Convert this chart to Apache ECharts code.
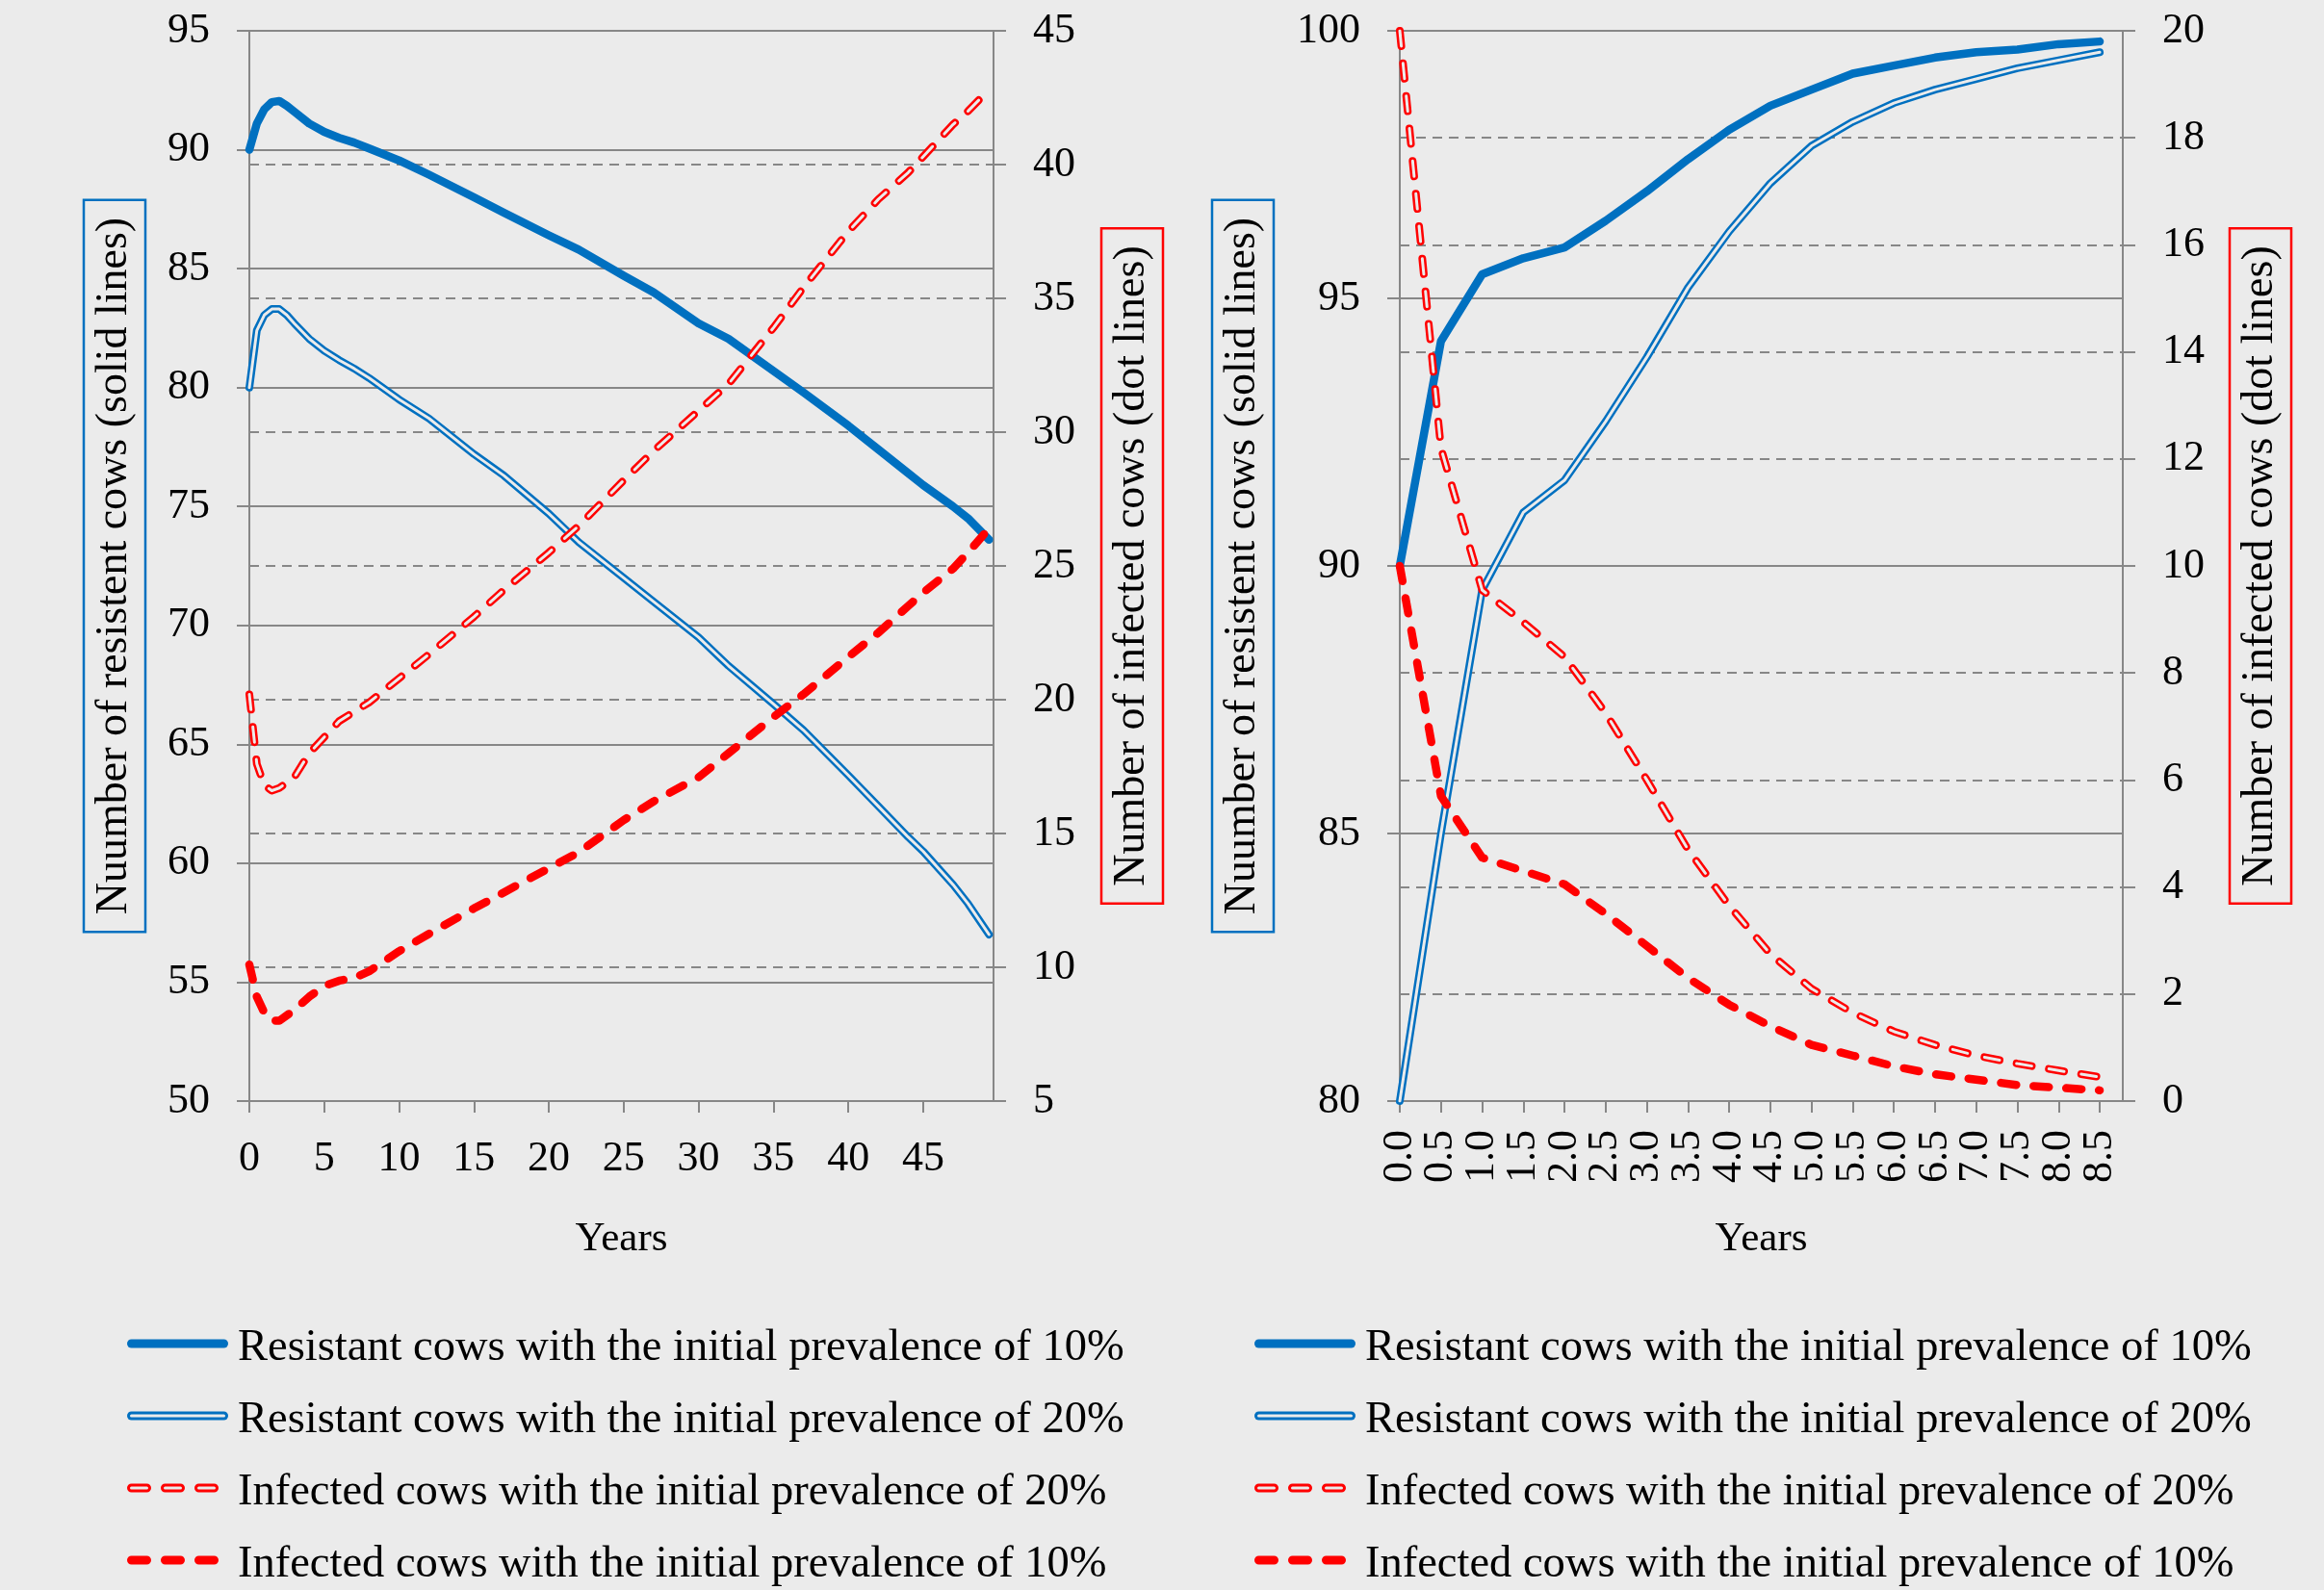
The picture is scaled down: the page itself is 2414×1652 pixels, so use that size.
<!DOCTYPE html>
<html><head><meta charset="utf-8">
<script src="https://cdn.jsdelivr.net/npm/echarts@6/dist/echarts.min.js"></script>
<style>html,body{margin:0;padding:0;background:#ebebeb}#c{width:2414px;height:1652px}</style>
</head><body><div id="c"></div><script>
// ---- data ----
const leftYears = [0, 0.5, 1, 1.5, 2, 2.5, 3, 4, 5, 6, 7, 8, 10, 12, 15, 17, 20, 22, 25, 27, 30, 32, 35, 37, 40, 42, 44, 45, 47, 48, 49.4];
const leftRes10 = [90.0, 91.1, 91.7, 92.0, 92.05, 91.85, 91.6, 91.1, 90.75, 90.5, 90.3, 90.05, 89.55, 88.95, 88.0, 87.35, 86.4, 85.8, 84.7, 84.0, 82.7, 82.05, 80.7, 79.8, 78.4, 77.4, 76.4, 75.9, 75.0, 74.5, 73.6];
const leftRes20 = [80.0, 82.4, 83.05, 83.3, 83.3, 83.05, 82.7, 82.05, 81.55, 81.15, 80.8, 80.4, 79.5, 78.7, 77.2, 76.3, 74.7, 73.5, 72.0, 71.0, 69.5, 68.3, 66.7, 65.6, 63.7, 62.4, 61.1, 60.5, 59.1, 58.3, 57.0];
const leftInf20 = [20.2, 17.6, 16.8, 16.6, 16.7, 16.9, 17.1, 18.0, 18.6, 19.2, 19.55, 19.9, 20.8, 21.7, 23.1, 24.1, 25.5, 26.5, 28.2, 29.3, 30.8, 31.8, 33.9, 35.4, 37.5, 38.7, 39.7, 40.3, 41.5, 42.0, 42.8];
const leftInf10 = [10.1, 8.9, 8.3, 8.0, 8.0, 8.2, 8.4, 8.9, 9.3, 9.5, 9.6, 9.85, 10.6, 11.25, 12.2, 12.8, 13.7, 14.3, 15.5, 16.2, 17.1, 18.0, 19.35, 20.2, 21.6, 22.5, 23.5, 24.0, 24.9, 25.5, 26.4];

const rightYears = [0, 0.5, 1, 1.5, 2, 2.5, 3, 3.5, 4, 4.5, 5, 5.5, 6, 6.5, 7, 7.5, 8, 8.5];
const rightYearLabels = ['0.0', '0.5', '1.0', '1.5', '2.0', '2.5', '3.0', '3.5', '4.0', '4.5', '5.0', '5.5', '6.0', '6.5', '7.0', '7.5', '8.0', '8.5'];
const rightRes10 = [90.0, 94.2, 95.45, 95.75, 95.95, 96.45, 97.0, 97.6, 98.15, 98.6, 98.9, 99.2, 99.35, 99.5, 99.6, 99.65, 99.75, 99.8];
const rightRes20 = [80.0, 85.0, 89.55, 91.0, 91.6, 92.7, 93.9, 95.2, 96.25, 97.15, 97.85, 98.3, 98.65, 98.9, 99.1, 99.3, 99.45, 99.6];
const rightInf20 = [20.0, 12.2, 9.55, 8.95, 8.3, 7.25, 6.0, 4.7, 3.65, 2.75, 2.1, 1.65, 1.3, 1.05, 0.85, 0.7, 0.57, 0.45];
const rightInf10 = [10.0, 5.7, 4.55, 4.3, 4.05, 3.5, 2.9, 2.3, 1.8, 1.4, 1.05, 0.85, 0.65, 0.5, 0.4, 0.3, 0.25, 0.2];

const seriesNames = [
  'Resistant cows with the initial prevalence of 10%',
  'Resistant cows with the initial prevalence of 20%',
  'Infected cows with the initial prevalence of 20%',
  'Infected cows with the initial prevalence of 10%'
];
const resistantAxisName = 'Nuumber of resistent cows (solid lines)';
const infectedAxisName = 'Number of infected cows (dot lines)';
const xAxisName = 'Years';

// ---- styling ----
const BLUE = '#0070C0', RED = '#FF0000', BG = '#EBEBEB', GRAY = '#878787';
const FONT = '"Liberation Serif", "Times New Roman", serif';
const DASH = [16, 18];
const RIGHT_X_MAX = 8.78;
const RIGHT_GRID = { left: 1454, top: 32, width: 751, height: 1112 };

function pairs(xs, ys) { return xs.map((x, i) => [x, ys[i]]); }

function seriesSet(gi, xs, r10, r20, i20, i10) {
  const base = { type: 'line', xAxisIndex: gi, showSymbol: false, symbol: 'none', animation: false, silent: true, smooth: false };
  const y0 = gi * 2, y1 = gi * 2 + 1;
  return [
    Object.assign({}, base, { name: seriesNames[0], yAxisIndex: y0, data: pairs(xs, r10), z: 2,
      lineStyle: { color: BLUE, width: 8.5, cap: 'round', join: 'round' } }),
    Object.assign({}, base, { name: seriesNames[1], yAxisIndex: y0, data: pairs(xs, r20), z: 3,
      lineStyle: { color: BLUE, width: 8, cap: 'round', join: 'round' } }),
    Object.assign({}, base, { name: seriesNames[1] + ' (inner)', yAxisIndex: y0, data: pairs(xs, r20), z: 4,
      lineStyle: { color: BG, width: 3, cap: 'round', join: 'round' } }),
    Object.assign({}, base, { name: seriesNames[2], yAxisIndex: y1, data: pairs(xs, i20), z: 5,
      lineStyle: { color: RED, width: 8, type: DASH, cap: 'round', join: 'round' } }),
    Object.assign({}, base, { name: seriesNames[2] + ' (inner)', yAxisIndex: y1, data: pairs(xs, i20), z: 6,
      lineStyle: { color: BG, width: 3, type: DASH, cap: 'round', join: 'round' } }),
    Object.assign({}, base, { name: seriesNames[3], yAxisIndex: y1, data: pairs(xs, i10), z: 7,
      lineStyle: { color: RED, width: 8.5, type: DASH, cap: 'round', join: 'round' } })
  ];
}

function yAxis(gi, pos, min, max, interval, lineType, name, boxColor, gap) {
  return {
    type: 'value', gridIndex: gi, position: pos, min: min, max: max, interval: interval,
    axisLine: { show: true, onZero: false, lineStyle: { color: GRAY, width: 2 } },
    axisTick: { show: true, inside: false, length: 13, lineStyle: { color: GRAY, width: 2 } },
    axisLabel: { margin: 41, color: '#000', fontSize: 44, fontFamily: FONT, showMinLabel: true, showMaxLabel: true },
    splitLine: { show: true, lineStyle: { color: GRAY, width: 2, type: lineType } },
    name: name, nameLocation: 'middle', nameRotate: 90, nameGap: gap, nameMoveOverlap: false,
    nameTextStyle: { color: '#000', fontSize: 46, fontFamily: FONT, borderColor: boxColor, borderWidth: 2.5, padding: [9, 18] }
  };
}

function xAxis(gi, max, interval, showLabels) {
  return {
    type: 'value', gridIndex: gi, min: 0, max: max, interval: interval,
    axisLine: { show: true, onZero: false, lineStyle: { color: GRAY, width: 2 } },
    axisTick: { show: showLabels, inside: false, length: 12, lineStyle: { color: GRAY, width: 2 } },
    axisLabel: { show: showLabels, margin: 38, color: '#000', fontSize: 44, fontFamily: FONT, showMinLabel: true, showMaxLabel: false },
    splitLine: { show: false },
    name: xAxisName, nameLocation: 'middle', nameGap: 122, nameMoveOverlap: false,
    nameTextStyle: { color: '#000', fontSize: 43, fontFamily: FONT }
  };
}

// ---- legends drawn as graphics (double & hollow line styles) ----
const legendRows = [1396, 1471, 1546, 1621];
function legendGraphic(x1, x2, tx) {
  const els = [];
  const a = x1 + 4.5, b = x2 - 4.5;
  legendRows.forEach((y, i) => {
    if (i === 0) {
      els.push({ type: 'line', shape: { x1: a, y1: y, x2: b, y2: y }, style: { stroke: BLUE, lineWidth: 9, lineCap: 'round' } });
    } else if (i === 1) {
      els.push({ type: 'line', shape: { x1: a, y1: y, x2: b, y2: y }, style: { stroke: BLUE, lineWidth: 9, lineCap: 'round' } });
      els.push({ type: 'line', shape: { x1: a, y1: y, x2: b, y2: y }, style: { stroke: BG, lineWidth: 3, lineCap: 'round' } });
    } else if (i === 2) {
      els.push({ type: 'line', shape: { x1: a, y1: y, x2: b, y2: y }, style: { stroke: RED, lineWidth: 9, lineCap: 'round', lineDash: [16, 19] } });
      els.push({ type: 'line', shape: { x1: a, y1: y, x2: b, y2: y }, style: { stroke: BG, lineWidth: 3, lineCap: 'round', lineDash: [16, 19] } });
    } else {
      els.push({ type: 'line', shape: { x1: a, y1: y, x2: b, y2: y }, style: { stroke: RED, lineWidth: 9, lineCap: 'round', lineDash: [16, 19] } });
    }
    els.push({ type: 'text', x: tx, y: y + 5, style: { text: seriesNames[i], fill: '#000', fontSize: 46.5, fontFamily: FONT, align: 'left', verticalAlign: 'middle' } });
  });
  return els;
}

// label grid for the right chart: spans 0 .. 8.5 of the value axis exactly
const lastYear = rightYears[rightYears.length - 1];
const labelGridWidth = RIGHT_GRID.width * (lastYear / RIGHT_X_MAX);

const chart = echarts.init(document.getElementById('c'), null, { renderer: 'canvas' });
chart.setOption({
  backgroundColor: BG,
  animation: false,
  grid: [
    { left: 259, top: 32, width: 773, height: 1112, containLabel: false, outerBoundsMode: 'none' },
    Object.assign({ containLabel: false, outerBoundsMode: 'none' }, RIGHT_GRID),
    { left: RIGHT_GRID.left, top: RIGHT_GRID.top, width: labelGridWidth, height: RIGHT_GRID.height, containLabel: false, outerBoundsMode: 'none' }
  ],
  xAxis: [
    xAxis(0, 49.7, 5, true),
    xAxis(1, RIGHT_X_MAX, 0.5, false),
    {
      type: 'category', gridIndex: 2, data: rightYearLabels, boundaryGap: false, position: 'bottom',
      axisLine: { show: false, onZero: false },
      axisTick: { show: true, inside: false, length: 12, interval: 0, lineStyle: { color: GRAY, width: 2 } },
      axisLabel: { interval: 0, rotate: 90, margin: 30, color: '#000', fontSize: 44, fontFamily: FONT },
      splitLine: { show: false }
    }
  ],
  yAxis: [
    yAxis(0, 'left', 50, 95, 5, 'solid', resistantAxisName, BLUE, 108),
    yAxis(0, 'right', 5, 45, 5, [10, 7], infectedAxisName, RED, 112),
    yAxis(1, 'left', 80, 100, 5, 'solid', resistantAxisName, BLUE, 131),
    yAxis(1, 'right', 0, 20, 2, [10, 7], infectedAxisName, RED, 111),
    { type: 'value', gridIndex: 2, show: false, min: 0, max: 1 }
  ],
  series: [].concat(
    seriesSet(0, leftYears, leftRes10, leftRes20, leftInf20, leftInf10),
    seriesSet(1, rightYears, rightRes10, rightRes20, rightInf20, rightInf10)
  ),
  graphic: legendGraphic(132, 237, 247).concat(legendGraphic(1303, 1408, 1418))
});
</script></body></html>
